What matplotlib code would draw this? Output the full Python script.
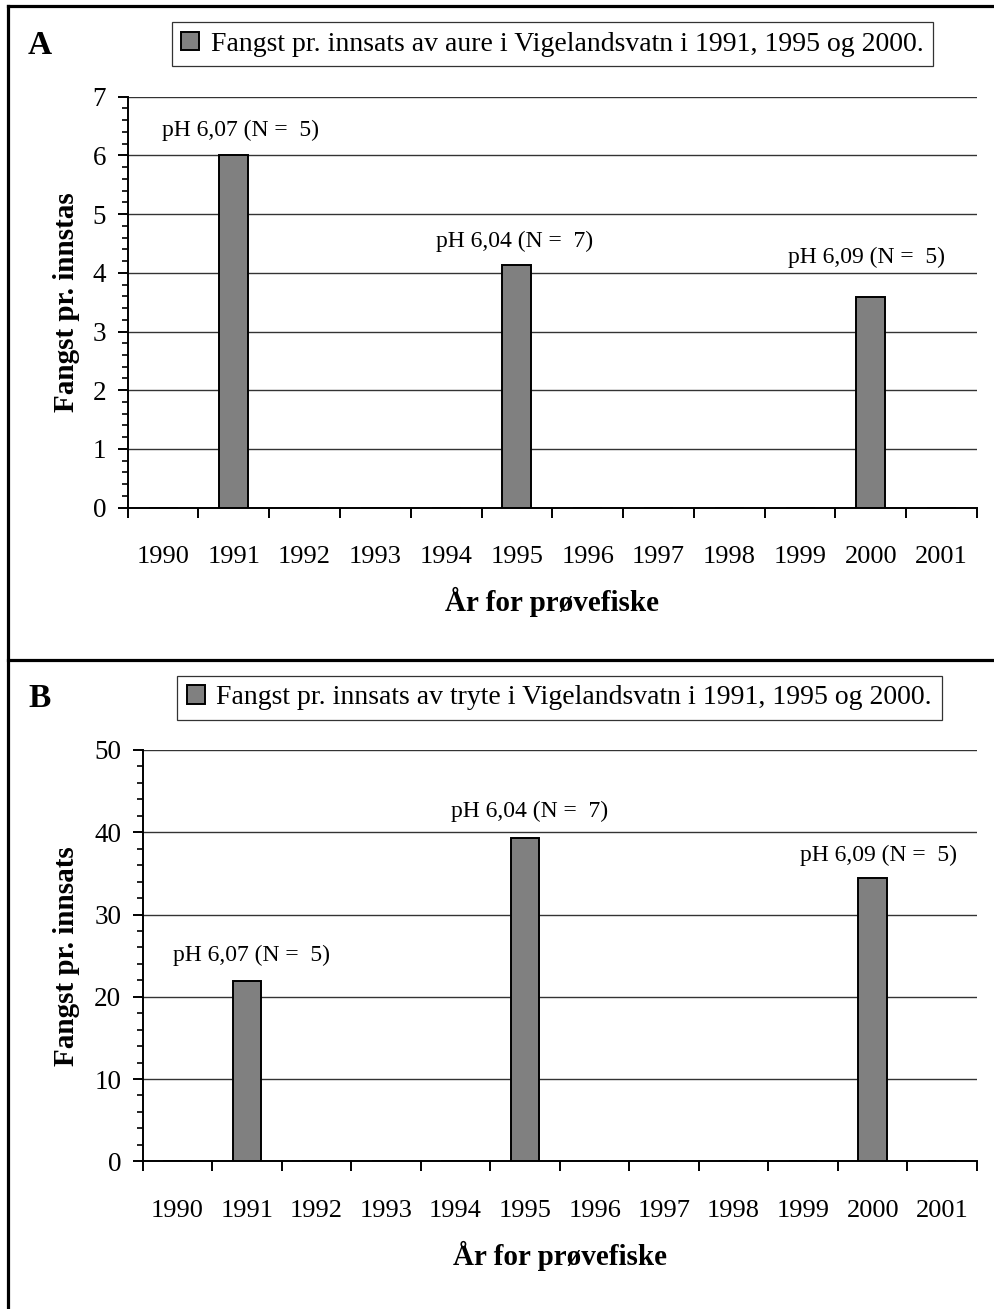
import matplotlib

matplotlib.use("Agg")
import matplotlib.pyplot as plt
from matplotlib.lines import Line2D
from matplotlib.ticker import FixedLocator, MultipleLocator, NullFormatter

plt.rcParams["font.family"] = ["Liberation Serif", "DejaVu Serif"]

YEARS = ["1990", "1991", "1992", "1993", "1994", "1995",
         "1996", "1997", "1998", "1999", "2000", "2001"]
AURE = [0, 6.0, 0, 0, 0, 4.13, 0, 0, 0, 0, 3.58, 0]
TRYTE = [0, 21.9, 0, 0, 0, 39.3, 0, 0, 0, 0, 34.4, 0]
PH_LABELS = {1: "pH 6,07 (N =  5)", 5: "pH 6,04 (N =  7)", 10: "pH 6,09 (N =  5)"}

LEGEND_A = "Fangst pr. innsats av aure i Vigelandsvatn i 1991, 1995 og 2000."
LEGEND_B = "Fangst pr. innsats av tryte i Vigelandsvatn i 1991, 1995 og 2000."

W, H = 995, 1309
BAR = "#808080"


def fx(px):
    return px / W


def fy(py):
    return 1 - py / H


def rect_label_x(rect):
    # right edge of rotated y label sits near x = 80 px
    return (80 / W - rect[0]) / rect[2]


def panel(fig, rect, values, ymax, ystep, yminor, ylabel, legend, letter,
          letter_y, legend_xy, label_offsets):
    ax = fig.add_axes(rect)
    x = [i + 0.5 for i in range(len(YEARS))]
    ax.bar(x, values, width=0.41, color=BAR, edgecolor="black",
           linewidth=1.4, zorder=3, label=legend)
    ax.set_xlim(0, len(YEARS))
    ax.set_ylim(0, ymax)

    for s in ("top", "right"):
        ax.spines[s].set_visible(False)
    ax.spines["left"].set_linewidth(1.4)
    ax.spines["bottom"].set_linewidth(1.4)

    ax.yaxis.set_major_locator(MultipleLocator(ystep))
    ax.yaxis.set_minor_locator(MultipleLocator(yminor))
    ax.grid(axis="y", which="major", color="#333333", linewidth=1.0, zorder=0)
    ax.tick_params(axis="y", which="major", direction="out", length=7.5,
                   width=1.4, labelsize=19.5, pad=8)
    ax.tick_params(axis="y", which="minor", direction="out", length=4.5,
                   width=1.2)

    ax.xaxis.set_major_locator(FixedLocator(range(len(YEARS) + 1)))
    ax.xaxis.set_major_formatter(NullFormatter())
    ax.xaxis.set_minor_locator(FixedLocator(x))
    ax.set_xticklabels(YEARS, minor=True)
    ax.tick_params(axis="x", which="major", direction="out", length=7.5,
                   width=1.4)
    ax.tick_params(axis="x", which="minor", length=0, labelsize=19, pad=28)

    ax.set_xlabel("År for prøvefiske", fontsize=21, fontweight="bold")
    ax.xaxis.set_label_coords(0.5, -0.193)
    ax.set_ylabel(ylabel, fontsize=21, fontweight="bold")
    ax.yaxis.set_label_coords(rect_label_x(rect), 0.5)

    for (i, text), (dx, dy) in zip(PH_LABELS.items(), label_offsets):
        ax.annotate(text, (x[i], values[i]), xytext=(dx, dy),
                    textcoords="offset pixels", ha="center", va="center",
                    fontsize=17, zorder=4)

    ax.legend(loc="upper left", bbox_to_anchor=legend_xy,
              bbox_transform=fig.transFigure, fontsize=20, frameon=True,
              fancybox=False, edgecolor="#333333", framealpha=1,
              handlelength=0.65, handleheight=0.65, handletextpad=0.4,
              borderpad=0.35, borderaxespad=0)
    ax.get_legend().get_frame().set_linewidth(0.9)

    fig.text(fx(40), letter_y, letter, fontsize=24, fontweight="bold",
             ha="center", va="center")
    return ax


def main():
    fig = plt.figure(figsize=(W / 100, H / 100), dpi=100)
    fig.patch.set_facecolor("white")

    rect_a = [fx(127.7), fy(507.6), fx(977 - 127.7), (507.6 - 96.7) / H]
    rect_b = [fx(142.7), fy(1161.3), fx(977 - 142.7), (1161.3 - 750) / H]

    panel(fig, rect_a, AURE, 7, 1, 0.2, "Fangst pr. innstas", LEGEND_A, "A",
          fy(46), (fx(171.7), fy(22)), [(7, 25), (-2, 24), (-4, 40)])
    panel(fig, rect_b, TRYTE, 50, 10, 2, "Fangst pr. innsats", LEGEND_B, "B",
          fy(698), (fx(177.3), fy(675.7)), [(5, 26), (4, 27), (6, 23)])

    # outer frame and divider between the two panels
    lw = 2.3
    fig.add_artist(Line2D([fx(8.3), fx(8.3)], [0, fy(5.7)], color="black",
                          linewidth=lw))
    fig.add_artist(Line2D([fx(8.3), 1], [fy(5.7), fy(5.7)], color="black",
                          linewidth=lw))
    fig.add_artist(Line2D([fx(8.3), 1], [fy(660), fy(660)], color="black",
                          linewidth=lw))

    fig.savefig("out.png", dpi=100, facecolor="white")


if __name__ == "__main__":
    main()
